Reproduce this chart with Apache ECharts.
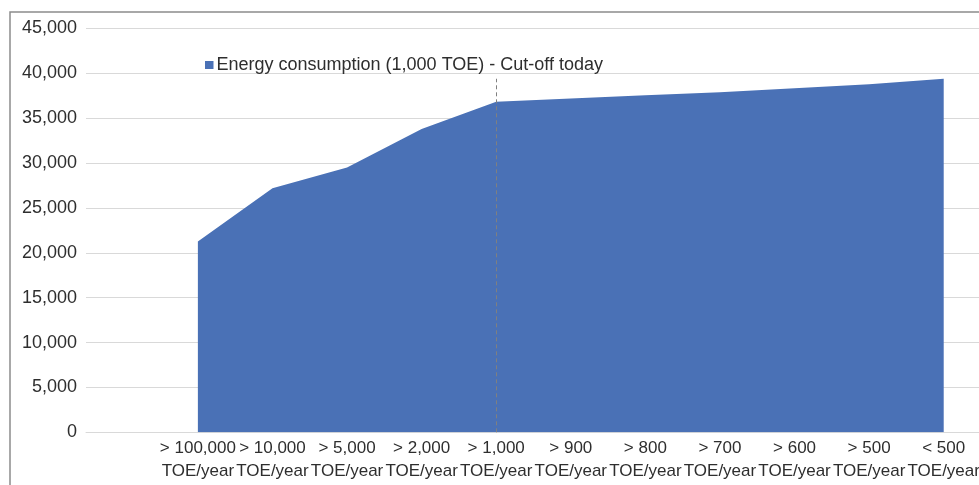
<!DOCTYPE html>
<html>
<head>
<meta charset="utf-8">
<script src="https://cdn.jsdelivr.net/npm/echarts@6/dist/echarts.min.js"></script>
<style>
html,body{margin:0;padding:0;background:#fff;}
#chart{width:979px;height:485px;}
</style>
</head>
<body>
<div id="chart"></div>
<script>
// Data
var categories = ['> 100,000\nTOE/year', '> 10,000\nTOE/year', '> 5,000\nTOE/year', '> 2,000\nTOE/year', '> 1,000\nTOE/year',
  '> 900\nTOE/year', '> 800\nTOE/year', '> 700\nTOE/year', '> 600\nTOE/year', '> 500\nTOE/year', '< 500\nTOE/year'];
var consumption = [21250, 27200, 29500, 33800, 36850, 37200, 37550, 37900, 38350, 38800, 39400];
var seriesName = 'Energy consumption (1,000 TOE) - Cut-off today';
var cutoffCategory = '> 1,000\nTOE/year';
var cutoffLineTop = 39400;
var yTicks = {min: 0, max: 45000, step: 5000};

var axisCats = [''].concat(categories);
var seriesData = [null].concat(consumption);

var chart = echarts.init(document.getElementById('chart'), null, {renderer: 'canvas'});
var font = '"Liberation Sans", Arial, sans-serif';
var textColor = '#2e2e2e';
chart.setOption({
  animation: false,
  backgroundColor: '#ffffff',
  textStyle: {fontFamily: font},
  graphic: [{
    type: 'rect',
    shape: {x: 10, y: 12, width: 1100, height: 600},
    style: {fill: 'none', stroke: '#8c8c8c', lineWidth: 1.5},
    silent: true
  }],
  legend: {
    left: 205, top: 56, padding: 0,
    itemWidth: 8.5, itemHeight: 8, itemGap: 10,
    icon: 'rect',
    textStyle: {fontFamily: font, fontSize: 18, color: textColor, padding: [0, 0, 0, -2]},
    data: [seriesName]
  },
  grid: {left: 86, top: 28.5, width: 895, height: 403.8, containLabel: false, outerBoundsMode: 'none'},
  xAxis: {
    type: 'category',
    data: axisCats,
    boundaryGap: true,
    axisLine: {show: true, lineStyle: {color: '#d9d9d9', width: 1}},
    axisTick: {show: false},
    axisLabel: {interval: 0, hideOverlap: false, fontFamily: font, fontSize: 17, color: textColor, lineHeight: 23, margin: 5}
  },
  yAxis: {
    type: 'value',
    min: yTicks.min, max: yTicks.max, interval: yTicks.step,
    axisLine: {show: false},
    axisTick: {show: false},
    splitLine: {lineStyle: {color: '#d9d9d9', width: 1}},
    axisLabel: {fontFamily: font, fontSize: 18, color: textColor, margin: 9,
      formatter: function (v) { return v.toLocaleString('en-US'); }}
  },
  series: [{
    name: seriesName,
    type: 'line',
    data: seriesData,
    symbol: 'none',
    showSymbol: false,
    lineStyle: {width: 0, opacity: 0},
    itemStyle: {color: '#4a71b6'},
    areaStyle: {color: '#4a71b6', opacity: 1},
    markLine: {
      silent: true,
      symbol: 'none',
      label: {show: false},
      lineStyle: {color: '#808080', type: [4, 3], width: 1},
      data: [[{coord: [cutoffCategory, 0]}, {coord: [cutoffCategory, cutoffLineTop]}]]
    }
  }]
});
</script>
</body>
</html>
